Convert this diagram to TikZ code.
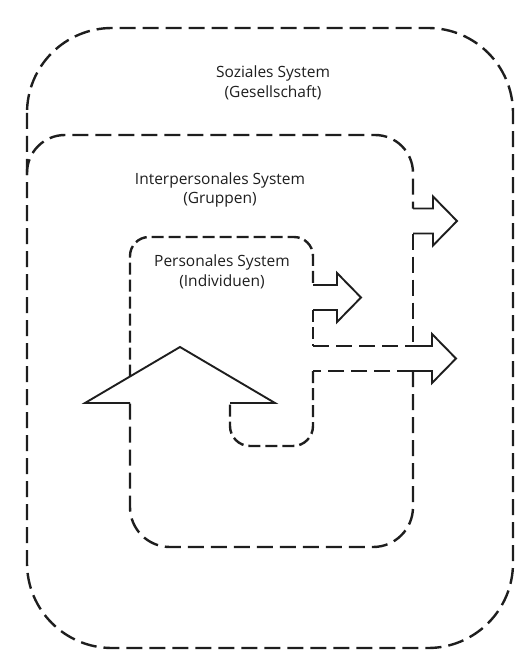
\documentclass[tikz,border=0pt]{standalone}
\usepackage{fontspec}
\setmainfont{Open Sans}
\definecolor{linie}{HTML}{1E1E1E}

\begin{document}
\begin{tikzpicture}[x=1pt,y=-1pt,
  grenze/.style={line width=2.4pt,dash pattern=on 16pt off 7pt,color=linie},
  grenzeklein/.style={grenze,dash pattern=on 12pt off 5pt},
  pfeil/.style={line width=1.9pt,color=linie,line join=miter},
  titel/.style={align=center,text=linie,font=\fontsize{15.5}{19.5}\selectfont}]
\useasboundingbox (0,0) rectangle (524,655);

\begin{scope}  % Soziales System
\draw[grenze,rounded corners=85] (27,28) rectangle (513,648);
\node[titel] (soz) at (273,83) {Soziales System\\(Gesellschaft)};
\end{scope}
%
\begin{scope}  % Interpersonales System
\coordinate (G0) at (27,175);
\coordinate (G1) at (27,135);
\coordinate (G2) at (413,135);
\coordinate (G3) at (413,208.5);
\coordinate (G4) at (413,233.5);
\coordinate (G5) at (413,346);
\coordinate (G6) at (413,371);
\coordinate (G7) at (413,547);
\coordinate (G8) at (130,547);
\coordinate (G9) at (130,403);
\draw[grenze,rounded corners=38] (G0)--(G1)--(G2)--(G3);
\draw[grenze] (G4)--(G5);
\draw[grenze,rounded corners=40] (G6)--(G7)--(G8)--(G9);
\node[titel] (inter) at (220,190) {Interpersonales System\\(Gruppen)};
\end{scope}
%
\begin{scope}  % Personales System
\coordinate (P0) at (130,376.5);
\coordinate (P1) at (130,237);
\coordinate (P2) at (313,237);
\coordinate (P3) at (313,285);
\coordinate (P4) at (313,310);
\coordinate (P5) at (313,346);
\coordinate (P6) at (313,371);
\coordinate (P7) at (313,446);
\coordinate (P8) at (230,446);
\coordinate (P9) at (230,403);
\draw[grenzeklein,rounded corners=19] (P0)--(P1)--(P2)--(P3);
\draw[grenzeklein] (P4)--(P5);
\draw[grenze] (P5)--(G5);
\draw[grenze] (G6)--(P6);
\draw[grenzeklein,rounded corners=20] (P6)--(P7)--(P8)--(P9);
\node[titel] (pers) at (222,272) {Personales System\\(Individuen)};
\end{scope}
%
% grosser Pfeil nach oben
\coordinate (H0) at (85,403);
\coordinate (H1) at (180,347);
\coordinate (H2) at (275,403);
\draw[pfeil] (G9)--(H0)--(H1)--(H2)--(P9);
%
% Pfeile nach rechts
\foreach \xa/\xb/\ym in {313/337/297.5,413/433/221,413/432/358.5}
\draw[pfeil] (\xa,\ym-12.5)--(\xb,\ym-12.5)--(\xb,\ym-24.5)--(\xb+24,\ym)
  --(\xb,\ym+24.5)--(\xb,\ym+12.5)--(\xa,\ym+12.5);
\end{tikzpicture}
\end{document}
